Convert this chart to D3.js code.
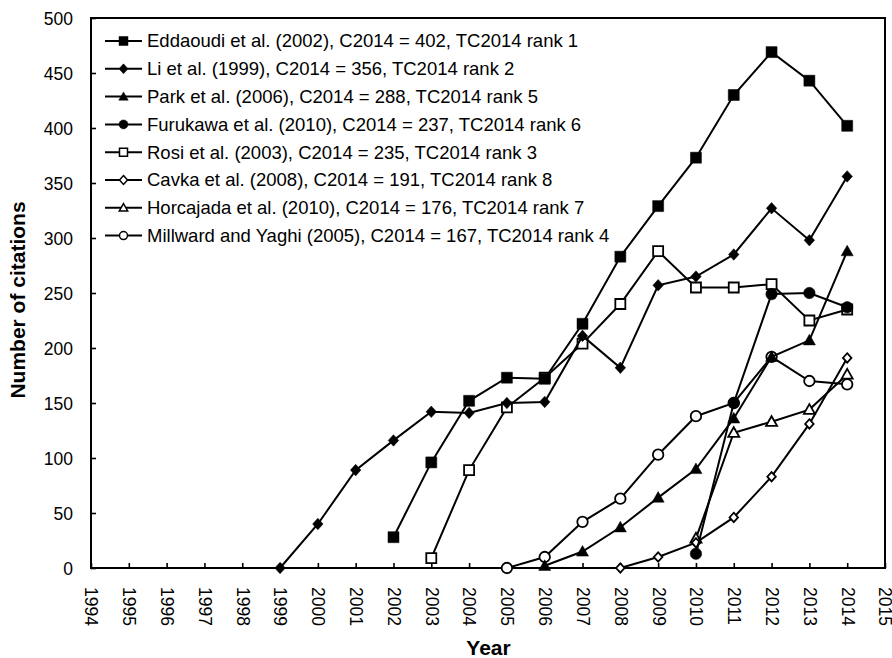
<!DOCTYPE html>
<html>
<head>
<meta charset="utf-8">
<script src="https://cdn.jsdelivr.net/npm/d3@7"></script>
<style>
  html, body { margin: 0; padding: 0; background: #fff; }
  svg { display: block; font-family: "Liberation Sans", Arial, sans-serif; }
</style>
</head>
<body>
<svg id="chart" width="892" height="658"></svg>
<script>
// ---- data ----
const seriesNames = [
  "Eddaoudi et al. (2002), C2014 = 402, TC2014 rank 1",
  "Li et al. (1999), C2014 = 356, TC2014 rank 2",
  "Park et al. (2006), C2014 = 288, TC2014 rank 5",
  "Furukawa et al. (2010), C2014 = 237, TC2014 rank 6",
  "Rosi et al. (2003), C2014 = 235, TC2014 rank 3",
  "Cavka et al. (2008), C2014 = 191, TC2014 rank 8",
  "Horcajada et al. (2010), C2014 = 176, TC2014 rank 7",
  "Millward and Yaghi (2005), C2014 = 167, TC2014 rank 4"
];
const startYears = [2002, 1999, 2006, 2010, 2003, 2008, 2010, 2005];
const eddaoudi  = [28, 96, 152, 173, 172, 222, 283, 329, 373, 430, 469, 443, 402];
const li        = [0, 40, 89, 116, 142, 141, 150, 151, 211, 182, 257, 265, 285, 327, 298, 356];
const park      = [2, 15, 37, 64, 90, 136, 192, 207, 288];
const furukawa  = [13, 150, 249, 250, 237];
const rosi      = [9, 89, 146, 173, 204, 240, 288, 255, 255, 258, 225, 235];
const cavka     = [0, 10, 23, 46, 83, 131, 191];
const horcajada = [27, 123, 133, 144, 176];
const millward  = [0, 10, 42, 63, 103, 138, 150, 192, 170, 167];
const seriesValues = [eddaoudi, li, park, furukawa, rosi, cavka, horcajada, millward];
const markerShapes = ["square", "diamond", "triangle", "circle", "square", "diamond", "triangle", "circle"];
const markerFilled = [true, true, true, true, false, false, false, false];
const yearTicks = d3.range(1994, 2016);
const yTicks = [0, 50, 100, 150, 200, 250, 300, 350, 400, 450, 500];

// ---- layout ----
const svg = d3.select("#chart");
const L = 91, R = 885, T = 18, B = 568;
const x = d3.scaleLinear().domain([1994, 2015]).range([L, R]);
const y = d3.scaleLinear().domain([0, 500]).range([B, T]);

// marker path generator
function markerPath(shape, s) {
  const h = s / 2;
  switch (shape) {
    case "square":   return `M${-h},${-h}H${h}V${h}H${-h}Z`;
    case "diamond":  return `M0,${-h*1.1}L${h*1.0},0L0,${h*1.1}L${-h*1.0},0Z`;
    case "triangle": return `M0,${-h*1.05}L${h*1.05},${h*0.8}L${-h*1.05},${h*0.8}Z`;
    case "circle":   return d3.arc()({innerRadius:0, outerRadius:h, startAngle:0, endAngle:2*Math.PI});
  }
}
const markerSize = { square: 11, diamond: 10.5, triangle: 11.5, circle: 11.5 };
const openSize   = { square: 10, diamond: 8.5, triangle: 10.5, circle: 10.5 };

// frame
svg.append("rect").attr("x", L).attr("y", T).attr("width", R - L).attr("height", B - T)
  .attr("fill", "none").attr("stroke", "#000").attr("stroke-width", 2);

// axes with inward ticks
const xAxis = svg.append("g").attr("transform", `translate(0,${B})`)
  .call(d3.axisBottom(x).tickValues(yearTicks).tickFormat(d3.format("d")).tickSizeInner(-5).tickSizeOuter(0));
xAxis.select(".domain").remove();
xAxis.selectAll(".tick line").attr("stroke", "#000").attr("stroke-width", 1.6);
xAxis.selectAll(".tick text")
  .attr("font-size", "17.5px").attr("fill", "#000")
  .attr("transform", "rotate(90)")
  .attr("x", 19).attr("y", 0).attr("dy", "0.35em")
  .attr("text-anchor", "start");

const yAxis = svg.append("g").attr("transform", `translate(${L},0)`)
  .call(d3.axisLeft(y).tickValues(yTicks).tickSizeInner(-5).tickSizeOuter(0));
yAxis.select(".domain").remove();
yAxis.selectAll(".tick line").attr("stroke", "#000").attr("stroke-width", 1.6);
yAxis.selectAll(".tick text")
  .attr("font-size", "17.5px").attr("fill", "#000")
  .attr("x", -18).attr("dy", "0.35em");

// axis titles
svg.append("text").attr("x", (L + R) / 2 + 0.5).attr("y", 655)
  .attr("text-anchor", "middle").attr("font-weight", "bold").attr("font-size", "21px")
  .text("Year");
svg.append("text").attr("transform", "translate(25,300) rotate(-90)")
  .attr("text-anchor", "middle").attr("font-weight", "bold").attr("font-size", "21px")
  .text("Number of citations");

// series
const line = d3.line().x(d => x(d.year)).y(d => y(d.value));
const seriesData = seriesValues.map((vals, i) =>
  vals.map((v, j) => ({ year: startYears[i] + j, value: v })));

const order = [7, 6, 5, 4, 3, 2, 1, 0];
order.forEach(i => {
  const g = svg.append("g");
  g.append("path").datum(seriesData[i]).attr("d", line)
    .attr("fill", "none").attr("stroke", "#000").attr("stroke-width", 2);
  const shape = markerShapes[i];
  const filled = markerFilled[i];
  g.selectAll("path.m").data(seriesData[i]).join("path").attr("class", "m")
    .attr("transform", d => `translate(${x(d.year)},${y(d.value)})`)
    .attr("d", markerPath(shape, filled ? markerSize[shape] : openSize[shape]))
    .attr("fill", filled ? "#000" : "#fff")
    .attr("stroke", "#000").attr("stroke-width", filled ? 0.5 : 1.8);
});

// legend
const leg = svg.append("g");
seriesNames.forEach((name, i) => {
  const ly = 41 + i * 27.8;
  leg.append("line").attr("x1", 105).attr("x2", 142).attr("y1", ly).attr("y2", ly)
    .attr("stroke", "#000").attr("stroke-width", 2);
  const shape = markerShapes[i], filled = markerFilled[i];
  leg.append("path").attr("transform", `translate(123.5,${ly})`)
    .attr("d", markerPath(shape, filled ? 9 : 8))
    .attr("fill", filled ? "#000" : "#fff").attr("stroke", "#000")
    .attr("stroke-width", filled ? 0.5 : 1.5);
  leg.append("text").attr("x", 147).attr("y", ly).attr("dy", "0.35em")
    .attr("font-size", "18.5px").attr("fill", "#000").text(name);
});
</script>
</body>
</html>
